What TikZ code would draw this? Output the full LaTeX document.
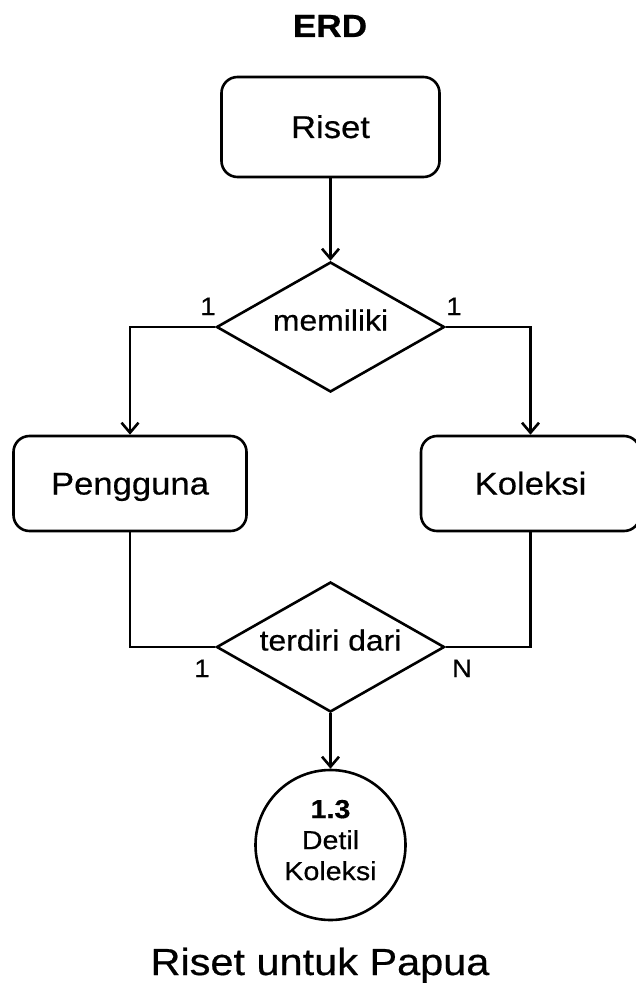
\documentclass[tikz,border=0pt]{standalone}
\usepackage{fontspec}
\setmainfont[FakeStretch=1.1,FakeBold=0.5]{Liberation Sans}
\usetikzlibrary{shapes.geometric,arrows.meta}
\begin{document}
\begin{tikzpicture}[x=1pt,y=-1pt,line width=2.6pt,
  entity/.style={draw, rounded corners=16pt, inner sep=0pt, text height=22pt, text depth=0pt, font=\fontsize{31.5}{36}\selectfont},
  relation/.style={draw, diamond, aspect=1.75, minimum width=228pt, minimum height=130pt, inner sep=0pt, text height=21pt, text depth=14pt, font=\fontsize{29}{34}\selectfont},
  card/.style={anchor=base, inner sep=0pt, font=\fontsize{25}{29}\selectfont},
  process/.style={draw, circle, minimum size=150pt, inner sep=0pt, align=center, text depth=10pt, font=\fontsize{26}{31}\selectfont},
  arr/.style={-{Straight Barb[length=10pt,width=17pt]}}
]
\useasboundingbox (0,0) rectangle (636,984);
\clip (0,0) rectangle (636,984);

\node[anchor=base, inner sep=0pt, font=\fontsize{32}{38}\selectfont\bfseries] (title) at (330,37) {ERD};
\node[entity, minimum width=218pt, minimum height=100pt] (riset) at (330.5,127) {Riset};
\node[relation] (mem) at (330.5,327) {memiliki};
\node[entity, minimum width=233pt, minimum height=95pt] (peng) at (130,483.5) {Pengguna};
\node[entity, minimum width=219pt, minimum height=95pt] (kol) at (530.5,483.5) {Koleksi};
\node[relation] (ter) at (330.5,647) {terdiri dari};
\node[process] (c13) at (330.5,845) {{\bfseries 1.3}\\Detil\\Koleksi};

\draw[arr] (riset.south) -- (mem.north);
\draw[arr] (mem.west) -| (peng.north);
\draw[arr] (mem.east) -| (kol.north);
\draw (peng.south) |- (ter.west);
\draw (kol.south) |- (ter.east);
\draw[arr] (ter.south) -- (c13.north);

\node[card] (c1) at (208,315) {1};
\node[card] (c2) at (454,315) {1};
\node[card] (c3) at (202,677) {1};
\node[card] (c4) at (462,677) {N};

\node[anchor=base, inner sep=0pt, font=\fontsize{37.7}{44}\selectfont] (foot) at (320,975) {Riset untuk Papua};
\end{tikzpicture}
\end{document}
